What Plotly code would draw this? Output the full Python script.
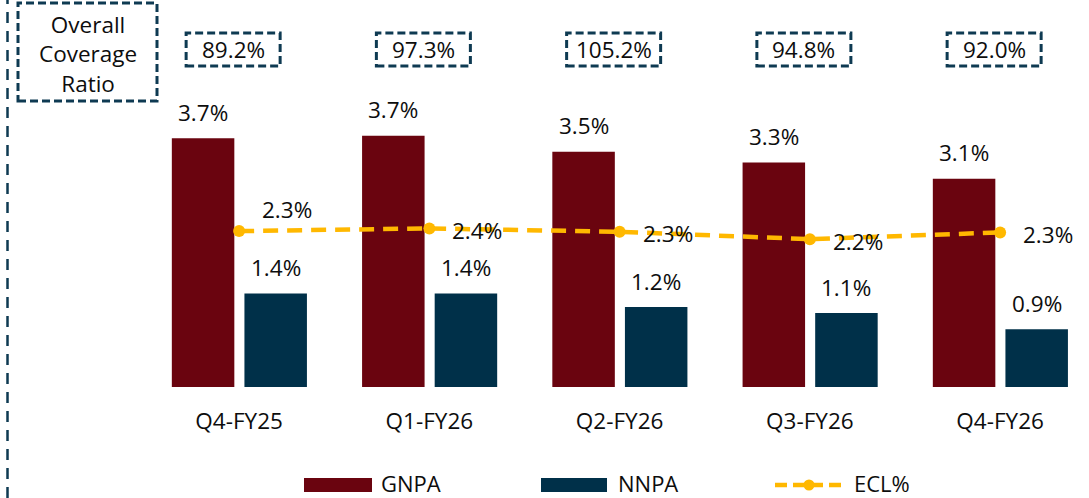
import plotly.graph_objects as go

# ---------------- data ----------------
categories = ["Q4-FY25", "Q1-FY26", "Q2-FY26", "Q3-FY26", "Q4-FY26"]
gnpa = [3.70, 3.74, 3.50, 3.34, 3.10]
nnpa = [1.39, 1.39, 1.19, 1.10, 0.86]
ecl = [2.32, 2.36, 2.31, 2.20, 2.30]
coverage = [89.2, 97.3, 105.2, 94.8, 92.0]

# ---------------- styles / layout helpers ----------------
W, H = 1089, 498
FONT = "Open Sans"
FS = 22.5
TXT = "#0d0d0d"
C_GNPA = "#6a040f"
C_NNPA = "#003049"
C_ECL = "#ffb800"
C_BOX = "#0e3a52"

PLOT_L, PLOT_B = 144, 387     # plot area left edge / bottom edge in px
PX_PER_CAT = 190.25
PX_PER_PCT = 67.2
BAR_W = 62.5 / PX_PER_CAT
ecl_label_dy = [22, -2, -2, -2, -2]


def px(x):
    return x / W


def py(y):
    return 1 - y / H


fig = go.Figure()

fig.add_trace(go.Bar(
    x=categories, y=gnpa, name="GNPA", marker=dict(color=C_GNPA, line=dict(width=0)),
    width=BAR_W, offset=-67.3 / PX_PER_CAT, showlegend=False, hoverinfo="x+y"))
fig.add_trace(go.Bar(
    x=categories, y=nnpa, name="NNPA", marker=dict(color=C_NNPA, line=dict(width=0)),
    width=BAR_W, offset=5.3 / PX_PER_CAT, showlegend=False, hoverinfo="x+y"))
fig.add_trace(go.Scatter(
    x=categories, y=ecl, name="ECL%", mode="lines+markers",
    line=dict(color=C_ECL, width=4.5, dash="15px,9px"),
    marker=dict(color=C_ECL, size=12), showlegend=False))

annotations = []
shapes = []

# bar value labels
for c, v in zip(categories, gnpa):
    annotations.append(dict(x=c, y=v, xref="x", yref="y", text=f"{v:.1f}%", showarrow=False,
                            xshift=-36, yshift=26, yanchor="middle",
                            font=dict(family=FONT, size=FS, color=TXT)))
for c, v in zip(categories, nnpa):
    annotations.append(dict(x=c, y=v, xref="x", yref="y", text=f"{v:.1f}%", showarrow=False,
                            xshift=36.5, yshift=26, yanchor="middle",
                            font=dict(family=FONT, size=FS, color=TXT)))
for c, v, dy in zip(categories, ecl, ecl_label_dy):
    annotations.append(dict(x=c, y=v, xref="x", yref="y", text=f"{v:.1f}%", showarrow=False,
                            xshift=48, yshift=dy, yanchor="middle",
                            font=dict(family=FONT, size=FS, color=TXT)))

# coverage ratio boxes
for i, v in enumerate(coverage):
    cx0 = i - 53 / PX_PER_CAT
    cx1 = i + 41 / PX_PER_CAT
    shapes.append(dict(type="rect", xref="x", yref="paper", x0=cx0, x1=cx1,
                       y0=py(66), y1=py(33),
                       line=dict(color=C_BOX, width=3, dash="8px,4px")))
    annotations.append(dict(x=i, y=py(49.5), xref="x", yref="paper", text=f"{v:.1f}%",
                            showarrow=False, xshift=-6, yanchor="middle",
                            font=dict(family=FONT, size=FS, color=TXT)))

# title box on the left
shapes.append(dict(type="rect", xref="paper", yref="paper", x0=px(18), x1=px(157),
                   y0=py(101), y1=py(3), line=dict(color=C_BOX, width=3, dash="8px,4px")))
annotations.append(dict(x=px(87.5), y=py(54), xref="paper", yref="paper",
                        text="Overall<br>Coverage<br>Ratio", showarrow=False,
                        xanchor="center", yanchor="middle", align="center",
                        font=dict(family=FONT, size=FS, color=TXT)))

# vertical dashed separator
shapes.append(dict(type="line", xref="paper", yref="paper", x0=px(7.5), x1=px(7.5),
                   y0=0, y1=1, line=dict(color=C_BOX, width=2.5, dash="11px,8px")))

# custom legend
LEG_Y = 485
LEG_TXT_Y = 482.5
leg_font = dict(family=FONT, size=22, color=TXT)
shapes.append(dict(type="rect", xref="paper", yref="paper", x0=px(304), x1=px(372),
                   y0=py(492), y1=py(478), fillcolor=C_GNPA, line=dict(width=0)))
annotations.append(dict(x=px(379), y=py(LEG_TXT_Y), xref="paper", yref="paper", text="GNPA",
                        showarrow=False, xanchor="left", yanchor="middle", font=leg_font))
shapes.append(dict(type="rect", xref="paper", yref="paper", x0=px(541), x1=px(607),
                   y0=py(492), y1=py(478), fillcolor=C_NNPA, line=dict(width=0)))
annotations.append(dict(x=px(616), y=py(LEG_TXT_Y), xref="paper", yref="paper", text="NNPA",
                        showarrow=False, xanchor="left", yanchor="middle", font=leg_font))
shapes.append(dict(type="line", xref="paper", yref="paper", x0=px(775), x1=px(847),
                   y0=py(LEG_Y), y1=py(LEG_Y), line=dict(color=C_ECL, width=4.5, dash="12px,6px")))
shapes.append(dict(type="circle", xref="paper", yref="paper", x0=px(803.5), x1=px(814.5),
                   y0=py(LEG_Y + 5.5), y1=py(LEG_Y - 5.5), fillcolor=C_ECL, line=dict(width=0)))
annotations.append(dict(x=px(852), y=py(LEG_TXT_Y), xref="paper", yref="paper", text="ECL%",
                        showarrow=False, xanchor="left", yanchor="middle", font=leg_font))

fig.update_layout(
    width=W, height=H,
    margin=dict(l=0, r=0, t=0, b=0, pad=0),
    paper_bgcolor="white", plot_bgcolor="white",
    barmode="overlay",
    showlegend=False,
    font=dict(family=FONT, size=FS, color=TXT),
    xaxis=dict(domain=[px(PLOT_L), 1], range=[-0.5, -0.5 + (W - PLOT_L) / PX_PER_CAT],
               showgrid=False, zeroline=False, showline=False, ticks="",
               tickfont=dict(family=FONT, size=FS, color=TXT), ticklabelstandoff=18,
               type="category"),
    yaxis=dict(domain=[py(PLOT_B), 1], range=[0, PLOT_B / PX_PER_PCT],
               visible=False, showgrid=False, zeroline=False),
    shapes=shapes,
    annotations=annotations,
)

fig.write_html(
    "out.html",
    config={"displayModeBar": False},
    post_script="document.body.style.margin='0';document.body.style.overflow='hidden';",
)
